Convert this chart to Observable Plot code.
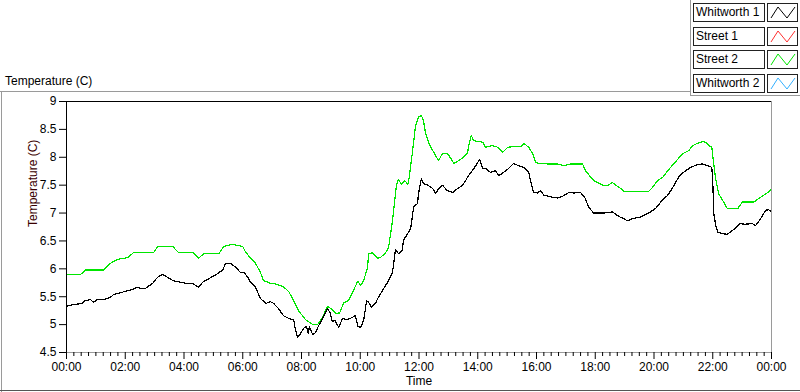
<!DOCTYPE html>
<html>
<head>
<meta charset="utf-8">
<script src="https://cdn.jsdelivr.net/npm/d3@7"></script>
<script src="https://cdn.jsdelivr.net/npm/@observablehq/plot@0.6"></script>
<style>
  html, body { margin: 0; padding: 0; background: #fff; }
  #page { position: relative; width: 800px; height: 392px; overflow: hidden; font-family: "Liberation Sans", Arial, sans-serif; font-size: 12px; color: #000; }
  #chart { position: absolute; left: 0; top: 0; }
  .ln { position: absolute; }
  .lbl { position: absolute; left: 693px; width: 68px; height: 17px; border: 1px solid #222; background: #fff; line-height: 17px; padding-left: 2px; box-sizing: content-box; white-space: nowrap; }
  .sw { position: absolute; left: 767px; width: 29px; height: 17px; border: 1px solid #222; background: #fff; }
  .sw svg { display: block; }
</style>
</head>
<body>
<div id="page">
  <div id="chart"></div>
</div>
<script>
// ---- Data ----
// time in minutes after 00:00, temperature in °C
const seriesNames = ["Whitworth 1", "Street 1", "Street 2", "Whitworth 2"];
const seriesColors = ["#000000", "#ff3030", "#00e600", "#33b0ff"];

const whitworth1Minutes = [0,14,33,35,49,55,63,76,90,96,110,121,135,145,151,161,176,186,196,206,217,233,243,259,270,278,288,298,308,319,325,335,345,355,362,370,376,386,396,407,417,423,433,443,454,464,468,472,478,484,490,494,496,503,509,515,523,529,533,539,543,548,556,564,574,584,590,595,601,607,613,617,623,631,637,648,656,666,672,678,686,688,699,703,709,717,719,725,729,738,748,754,760,768,778,789,799,809,815,821,829,836,844,850,856,866,876,883,893,903,913,923,934,944,948,954,962,968,975,989,1003,1013,1026,1036,1050,1060,1066,1077,1087,1097,1115,1128,1138,1146,1156,1173,1189,1203,1214,1228,1240,1250,1260,1275,1289,1299,1310,1318,1320,1322,1326,1330,1340,1350,1365,1375,1385,1401,1407,1418,1428,1434,1440];
const whitworth1Temp = [5.33,5.36,5.38,5.42,5.45,5.40,5.45,5.45,5.49,5.54,5.57,5.60,5.63,5.67,5.65,5.65,5.74,5.85,5.90,5.85,5.79,5.76,5.74,5.73,5.67,5.76,5.81,5.86,5.91,5.98,6.10,6.10,6.03,5.94,5.94,5.85,5.76,5.67,5.47,5.38,5.41,5.38,5.29,5.16,5.11,5.08,4.90,4.77,4.84,4.93,4.97,4.84,4.96,4.82,4.86,4.98,5.11,5.22,5.29,5.20,5.05,5.08,4.95,5.11,5.09,5.13,5.16,4.97,4.95,5.08,5.43,5.40,5.31,5.38,5.49,5.65,5.76,5.94,6.35,6.27,6.33,6.51,6.66,6.72,7.11,7.17,7.35,7.62,7.53,7.50,7.44,7.35,7.44,7.50,7.40,7.37,7.44,7.50,7.58,7.67,7.76,7.85,7.96,7.80,7.80,7.73,7.76,7.67,7.73,7.80,7.89,7.85,7.82,7.73,7.58,7.37,7.36,7.40,7.32,7.29,7.27,7.30,7.37,7.36,7.37,7.26,7.11,7.00,7.00,7.00,7.02,6.94,6.90,6.86,6.90,6.93,7.00,7.08,7.20,7.32,7.48,7.64,7.73,7.82,7.87,7.88,7.85,7.82,7.58,7.00,6.78,6.66,6.63,6.62,6.72,6.81,6.80,6.81,6.77,6.90,7.05,7.06,7.03];

const street2Minutes = [0,29,39,76,90,104,125,137,178,186,217,229,259,270,280,311,321,339,360,366,376,386,396,402,417,427,437,443,454,464,474,488,503,513,523,533,543,550,558,566,576,586,595,601,607,615,617,625,635,641,652,658,662,666,674,678,684,691,697,699,707,713,719,725,729,733,740,748,754,760,768,778,785,791,801,811,819,821,827,831,850,856,870,881,891,901,913,928,934,944,952,958,964,983,1003,1015,1030,1054,1060,1071,1077,1087,1095,1107,1115,1122,1132,1138,1189,1197,1207,1218,1228,1240,1250,1260,1271,1279,1289,1299,1305,1312,1318,1322,1326,1332,1340,1350,1371,1381,1404,1414,1424,1434,1440];
const street2Temp = [5.90,5.90,5.98,5.98,6.10,6.17,6.20,6.29,6.29,6.40,6.40,6.29,6.29,6.19,6.27,6.27,6.40,6.44,6.40,6.30,6.19,6.10,5.94,5.79,5.74,5.73,5.70,5.68,5.59,5.43,5.25,5.09,5.00,5.00,5.13,5.33,5.27,5.20,5.21,5.39,5.43,5.61,5.78,5.70,5.79,6.03,6.27,6.29,6.19,6.20,6.29,6.39,6.63,6.87,7.50,7.60,7.52,7.58,7.52,7.58,8.12,8.57,8.72,8.75,8.66,8.45,8.25,8.12,8.03,7.94,8.07,8.07,7.98,7.89,7.94,8.00,8.07,8.18,8.39,8.30,8.27,8.18,8.21,8.18,8.09,8.18,8.19,8.19,8.25,8.18,8.07,7.91,7.89,7.88,7.88,7.85,7.88,7.88,7.76,7.64,7.58,7.54,7.50,7.50,7.55,7.50,7.44,7.39,7.39,7.46,7.58,7.64,7.76,7.88,7.98,8.07,8.12,8.21,8.25,8.28,8.27,8.21,8.18,7.88,7.61,7.35,7.23,7.08,7.08,7.20,7.20,7.26,7.32,7.38,7.44];

const yTicks = [4.5, 5, 5.5, 6, 6.5, 7, 7.5, 8, 8.5, 9];
const xMajorTickMinutes = [0,120,240,360,480,600,720,840,960,1080,1200,1320,1440];
const xMinorStepMinutes = 15;
const xAxisLabel = "Time";
const yAxisLabel = "Temperature (C)";

// ---- Build ----
const t0 = Date.UTC(2000, 0, 1);
const toDate = m => new Date(t0 + m * 60000);
const w1 = whitworth1Minutes.map((m, i) => ({t: toDate(m), v: whitworth1Temp[i]}));
const s2 = street2Minutes.map((m, i) => ({t: toDate(m), v: street2Temp[i]}));
const majorTicks = xMajorTickMinutes.map(toDate);
const minorTicks = d3.range(0, 1440 + 1, xMinorStepMinutes).filter(m => m % 120 !== 0).map(toDate);

const chart = Plot.plot({
  width: 800, height: 392,
  marginTop: 101, marginBottom: 40, marginLeft: 66, marginRight: 29,
  style: {fontFamily: '"Liberation Sans", Arial, sans-serif', fontSize: "12px", background: "transparent", color: "#000"},
  x: {type: "utc", domain: [toDate(0), toDate(1440)]},
  y: {domain: [4.5, 9]},
  marks: [
    Plot.line(s2, {x: "t", y: "v", stroke: seriesColors[2], strokeWidth: 1.2, shapeRendering: "crispEdges"}),
    Plot.line(w1, {x: "t", y: "v", stroke: seriesColors[0], strokeWidth: 1.2, shapeRendering: "crispEdges"}),
    Plot.ruleY([4.5], {stroke: "#9a9a9a"}),
    Plot.ruleX([toDate(1440)], {stroke: "#9a9a9a"}),
    Plot.ruleY([9], {stroke: "#000"}),
    Plot.ruleX([toDate(0)], {stroke: "#000"}),
    Plot.axisY({ticks: yTicks, tickSize: 7, tickPadding: 3, tickFormat: d => String(d), label: null, stroke: "#000"}),
    Plot.axisX({ticks: minorTicks, tickSize: 4, tickFormat: () => "", label: null, stroke: "#000"}),
    Plot.axisX({ticks: majorTicks, tickSize: 7, tickPadding: 3, tickFormat: d3.utcFormat("%H:%M"), label: null, stroke: "#000"}),
    Plot.text([yAxisLabel], {frameAnchor: "left", dx: -33, rotate: -90, fill: "#3a0000", fontSize: 12}),
    Plot.text([xAxisLabel], {frameAnchor: "bottom", dy: 32, fill: "#000", fontSize: 12})
  ]
});
document.getElementById("chart").appendChild(chart);

// ---- Panel frame, title and legend ----
const page = document.getElementById("page");
function line(l, t, w, h, c) {
  const d = document.createElement("div");
  d.className = "ln";
  Object.assign(d.style, {left: l + "px", top: t + "px", width: w + "px", height: h + "px", background: c});
  page.appendChild(d);
}
line(0, 91, 690, 1, "#9a9a9a");
line(1, 91, 1, 301, "#9a9a9a");
line(0, 390, 800, 1, "#555");
line(690, 0, 1, 96, "#9a9a9a");
line(690, 95, 110, 1, "#9a9a9a");

const title = document.createElement("div");
title.textContent = yAxisLabel;
Object.assign(title.style, {position: "absolute", left: "5px", top: "74px", fontSize: "12px"});
page.appendChild(title);

const rowTops = [3, 27, 50, 74];
seriesNames.forEach((name, i) => {
  const lb = document.createElement("div");
  lb.className = "lbl";
  lb.style.top = rowTops[i] + "px";
  lb.textContent = name;
  page.appendChild(lb);
  const sw = document.createElement("div");
  sw.className = "sw";
  sw.style.top = rowTops[i] + "px";
  sw.innerHTML = `<svg width="29" height="17"><polyline points="3,14 10,3 19,14 27,3" fill="none" stroke="${seriesColors[i]}" stroke-width="1"/></svg>`;
  page.appendChild(sw);
});
</script>
</body>
</html>
